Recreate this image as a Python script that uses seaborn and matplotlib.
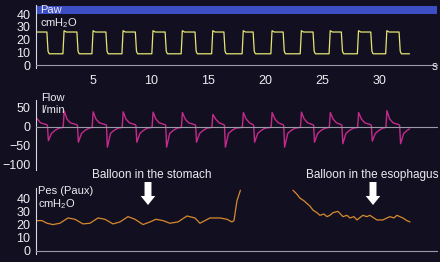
import numpy as np
import pandas as pd
import matplotlib
matplotlib.use('Agg')
import matplotlib.pyplot as plt
import seaborn as sns

# colours
bg = '#121020'
col_paw = '#e4e474'
col_flow = '#c42a8c'
col_pes = '#d8892e'
col_bar = '#3c4ec4'
col_txt = '#ececf2'
col_axis = '#9a9aa8'

# Paw: square wave timing (s) and levels (cmH2O)
paw_fall = [1.0, 3.62, 6.15, 8.72, 11.32, 13.93, 16.45, 19.0, 21.62, 24.23, 26.7, 29.27, 31.74]
paw_rise = [2.4, 4.93, 7.55, 10.16, 12.72, 15.38, 18.04, 20.55, 23.11, 25.63, 28.1, 30.57]
paw_end = 32.6
paw_high = 26
paw_low = 9

# Flow (l/min): start value, peak after each rise, minimum after each fall
flow_start = 24
flow_peak = [42, 39, 39, 38, 37, 32, 37, 37, 38, 37, 37, 42]
flow_min = [-37, -41, -54, -41, -54, -41, -54, -41, -54, -41, -45, -38, -45]
flow_end = -6
# decay after peak / recovery after minimum (seconds after the edge, l/min)
flow_insp_dt = [0.3, 0.6]
flow_insp_val = [20, 10]
flow_exp_dt = [0.35, 0.65, 1.0]
flow_exp_val = [-18, -10, -4]

# Pes (cmH2O): balloon in the stomach, then in the esophagus
pes_t1 = [0, 0.52, 0.96, 1.48, 2.09, 2.79, 3.40, 4.10, 4.71, 5.41, 6.02, 6.72, 7.33,
          8.03, 8.64, 9.34, 9.95, 10.47, 11.08, 11.69, 12.39, 13.18, 13.87, 14.31,
          15.18, 16.06, 16.67, 17.10, 17.28, 17.54, 17.84]
pes_v1 = [23, 23, 21, 20, 21, 25, 24, 20.5, 21, 25, 24, 20.5, 22,
          26, 24, 20, 22, 24, 23, 21, 22, 26.5, 25, 21,
          25, 25, 24, 22, 23, 38, 46]
pes_t2 = [22.43, 22.77, 23.04, 23.39, 23.65, 23.91, 24.17, 24.52, 24.78, 25.13, 25.39,
          25.65, 25.92, 26.35, 26.79, 27.14, 27.40, 27.75, 28.01, 28.53, 28.88, 29.14,
          29.49, 29.76, 30.28, 30.63, 30.89, 31.24, 31.50, 32.02, 32.37, 32.64]
pes_v2 = [46, 43, 40, 38, 36, 34, 31, 29, 27, 28, 26,
          27, 29, 30, 26, 27, 25, 26, 23.5, 27, 26, 27,
          25, 23.5, 23.5, 25, 26, 25, 27, 25, 23, 22]

xticks = [5, 10, 15, 20, 25, 30]

# build the Paw trace from the edges
t, v = [0], [paw_high]
for i, f in enumerate(paw_fall):
    t += [f - 0.05, f + 0.05, f + 0.15]
    v += [paw_high, paw_low + 2, paw_low]
    if i < len(paw_rise):
        r = paw_rise[i]
        t += [r - 0.05, r + 0.05, r + 0.25]
        v += [paw_low, paw_high + 1, paw_high]
    else:
        t += [paw_end]
        v += [paw_low]
paw_df = pd.DataFrame({'t': t, 'v': v})

# build the Flow trace
t, v = [0, 0.4, paw_fall[0] - 0.05], [flow_start, 10, 5]
for i, f in enumerate(paw_fall):
    t += [f, f + 0.08] + [f + d for d in flow_exp_dt]
    v += [3, flow_min[i]] + flow_exp_val
    if i < len(paw_rise):
        r = paw_rise[i]
        t += [r - 0.03, r + 0.06] + [r + d for d in flow_insp_dt] + [paw_fall[i + 1] - 0.05]
        v += [-2, flow_peak[i]] + flow_insp_val + [5]
    else:
        t = t[:-1] + [paw_end]
        v = v[:-1] + [flow_end]
flow_df = pd.DataFrame({'t': t, 'v': v})

pes_df1 = pd.DataFrame({'t': pes_t1, 'v': pes_v1})
pes_df2 = pd.DataFrame({'t': pes_t2, 'v': pes_v2})

sns.set_style('dark')
plt.rcParams['font.family'] = ['Liberation Sans', 'DejaVu Sans']
plt.rcParams['mathtext.fontset'] = 'custom'
plt.rcParams['mathtext.rm'] = 'Liberation Sans'
plt.rcParams['mathtext.default'] = 'regular'

W, H = 440, 262
fig = plt.figure(figsize=(W / 100, H / 100), dpi=100, facecolor=bg)


def px_axes(x0, y0, x1, y1):
    return fig.add_axes([x0 / W, 1 - y1 / H, (x1 - x0) / W, (y1 - y0) / H])


def style(ax, ylim, yticks, ylabels, show_x=False):
    ax.set_facecolor(bg)
    ax.set_xlim(0, 35)
    ax.set_ylim(*ylim)
    ax.grid(False)
    for s in ['top', 'right']:
        ax.spines[s].set_visible(False)
    ax.spines['left'].set_color('#d8d8e0')
    ax.spines['left'].set_linewidth(0.8)
    ax.spines['bottom'].set_position(('data', 0))
    ax.spines['bottom'].set_color(col_axis)
    ax.spines['bottom'].set_linewidth(0.8)
    ax.set_yticks(yticks)
    ax.set_yticklabels(ylabels)
    ax.set_xticks(xticks)
    ax.tick_params(axis='y', colors='#d8d8e0', labelcolor=col_txt, labelsize=9,
                   length=3, width=0.8, pad=1)
    ax.tick_params(axis='x', colors='#c8c8d0', labelcolor=col_txt, labelsize=9,
                   length=2, width=0.8, direction='inout', pad=6,
                   labelbottom=show_x)
    ax.set_xlabel('')
    ax.set_ylabel('')


# Paw panel
ax1 = px_axes(36, 5, 437, 68)
ax1.axhspan(40.2, 46.4, color=col_bar, lw=0)
sns.lineplot(data=paw_df, x='t', y='v', ax=ax1, sort=False, estimator=None,
             color=col_paw, lw=0.9)
style(ax1, (-2.1, 47.1), [0, 10, 20, 30, 40], ['0', '10', '20', '30', '40'], show_x=True)
ax1.text(35, -1.4, 's', color=col_txt, fontsize=8.5, ha='right', va='center', clip_on=False)

# Flow panel
ax2 = px_axes(36, 100, 437, 170)
sns.lineplot(data=flow_df, x='t', y='v', ax=ax2, sort=False, estimator=None,
             color=col_flow, lw=1.0)
style(ax2, (-114, 70), [50, 0, -50, -100], ['50', '0', '\u221250', '\u2212100'])

# Pes panel
ax3 = px_axes(36, 188, 437, 254)
for d in [pes_df1, pes_df2]:
    sns.lineplot(data=d, x='t', y='v', ax=ax3, sort=False, estimator=None,
                 color=col_pes, lw=0.9)
style(ax3, (-2.3, 47.7), [0, 10, 20, 30, 40], ['0', '10', '20', '30', '40'])

# panel labels
def ftext(x, y, s):
    fig.text(x / W, 1 - y / H, s, color=col_txt, fontsize=8, ha='left', va='center')


ftext(40, 10, 'Paw')
ftext(40, 23, 'cmH$_2$O')
ftext(41, 98, 'Flow')
ftext(41, 110, 'l/min')
ftext(38, 191, 'Pes (Paux)')
ftext(38, 204, 'cmH$_2$O')

# annotations
for label, xc, xa in [('Balloon in the stomach', 152, 148),
                      ('Balloon in the esophagus', 372, 373)]:
    fig.text(xc / W, 1 - 175 / H, label, color=col_txt, fontsize=8.5,
             ha='center', va='center')
    fig.patches.append(matplotlib.patches.FancyArrowPatch(
        (xa / W, 1 - 182 / H), (xa / W, 1 - 205 / H), transform=fig.transFigure,
        arrowstyle='simple,head_length=0.65,head_width=1.05,tail_width=0.5',
        mutation_scale=10, color='white', lw=0, shrinkA=0, shrinkB=0))

fig.savefig('out.png', dpi=100, facecolor=bg)
